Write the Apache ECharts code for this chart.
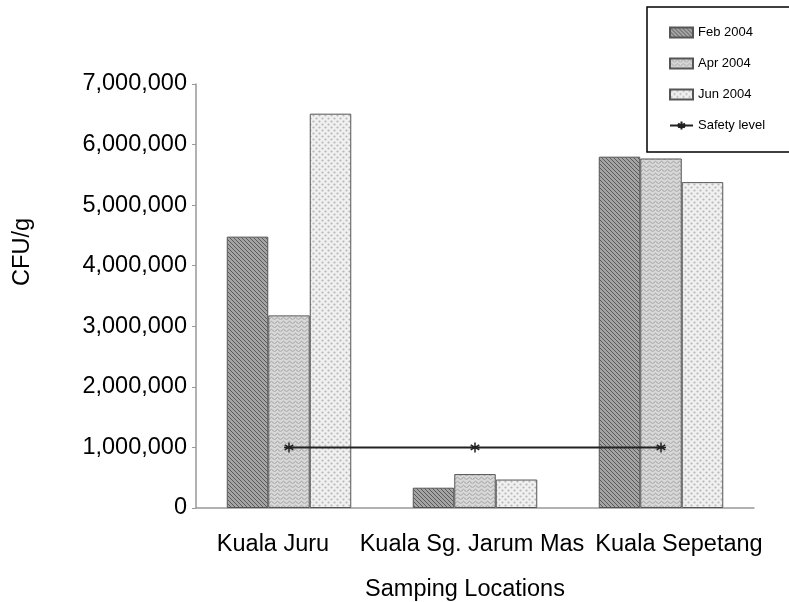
<!DOCTYPE html>
<html>
<head>
<meta charset="utf-8">
<script src="https://cdn.jsdelivr.net/npm/echarts@6/dist/echarts.min.js"></script>
<style>
  html, body { margin: 0; padding: 0; background: #fff; }
  #chart { width: 789px; height: 602px; }
</style>
</head>
<body>
<div id="chart"></div>
<script>
// Sampling sites and monthly counts (CFU/g)
const locations = ['Kuala Juru', 'Kuala Sg. Jarum Mas', 'Kuala Sepetang'];
const feb2004 = [4480000, 335000, 5800000];
const apr2004 = [3180000, 560000, 5770000];
const jun2004 = [6510000, 470000, 5380000];
const safetyLevel = [1000000, 1000000, 1000000];
const yTicks = { min: 0, max: 7000000, step: 1000000 };

// Fill textures for the bars
function hatchPattern() {
  const c = document.createElement('canvas');
  c.width = 4; c.height = 4;
  const g = c.getContext('2d');
  g.fillStyle = '#a4a4a4'; g.fillRect(0, 0, 4, 4);
  g.strokeStyle = '#5a5a5a'; g.lineWidth = 1;
  g.beginPath();
  g.moveTo(0, 0); g.lineTo(4, 4);
  g.moveTo(-2, 2); g.lineTo(2, 6);
  g.moveTo(2, -2); g.lineTo(6, 2);
  g.stroke();
  return c;
}
function wavePattern() {
  const c = document.createElement('canvas');
  c.width = 6; c.height = 4;
  const g = c.getContext('2d');
  g.fillStyle = '#d8d8d8'; g.fillRect(0, 0, 6, 4);
  g.strokeStyle = '#a0a0a0'; g.lineWidth = 1;
  g.beginPath();
  g.moveTo(0, 2.5); g.quadraticCurveTo(1.5, 0, 3, 2.5); g.quadraticCurveTo(4.5, 5, 6, 2.5);
  g.stroke();
  return c;
}
function dotPattern() {
  const c = document.createElement('canvas');
  c.width = 6; c.height = 6;
  const g = c.getContext('2d');
  g.fillStyle = '#f0f0f0'; g.fillRect(0, 0, 6, 6);
  g.fillStyle = '#b8b8b8';
  g.beginPath(); g.arc(1.5, 1.5, 1.1, 0, Math.PI * 2); g.fill();
  g.beginPath(); g.arc(4.5, 4.5, 1.1, 0, Math.PI * 2); g.fill();
  return c;
}

const font = '"Liberation Sans", Arial, sans-serif';
const fs = 23.5;
const chart = echarts.init(document.getElementById('chart'), null, { renderer: 'canvas' });

const barBorder = { borderColor: '#555', borderWidth: 1 };
const asterisk = 'path://M0,-5L0,5M-4.3,-2.5L4.3,2.5M-4.3,2.5L4.3,-2.5M-5,0L5,0';

// per-category label nudges (left/right padding around centred text)
const labelPad = [[0, 32, 0, 0], [0, 6, 0, 0], [0, 0, 0, 36]];
const labelRich = {};
labelPad.forEach((p, i) => {
  labelRich['l' + i] = { fontSize: fs, color: '#000', fontFamily: font, padding: p };
});

chart.setOption({
  animation: false,
  backgroundColor: '#fff',
  textStyle: { fontFamily: font },
  grid: {
    left: 196, right: 35, top: 84, bottom: 94,
    containLabel: false, outerBoundsMode: 'none'
  },
  legend: {
    orient: 'vertical',
    left: 647, top: 7,
    padding: [19, 26, 20, 22],
    borderColor: '#000', borderWidth: 1.5,
    itemWidth: 23, itemHeight: 10, itemGap: 18,
    textStyle: { fontSize: 13, color: '#000', fontFamily: font },
    data: [
      { name: 'Feb 2004', icon: 'rect' },
      { name: 'Apr 2004', icon: 'rect' },
      { name: 'Jun 2004', icon: 'rect' },
      { name: 'Safety level' }
    ]
  },
  graphic: [{
    type: 'text',
    left: 11, top: 218,
    rotation: Math.PI / 2,
    style: { text: 'CFU/g', font: fs + 'px ' + font, fill: '#000' }
  }],
  xAxis: {
    type: 'category',
    data: locations,
    name: 'Samping Locations',
    nameLocation: 'middle',
    nameGap: 70,
    nameTextStyle: { fontSize: fs, color: '#000', padding: [0, 20, 0, 0] },
    axisLine: { lineStyle: { color: '#999', width: 1.5 } },
    axisTick: { length: 4, lineStyle: { color: '#999' } },
    axisLabel: {
      interval: 0, margin: 25,
      formatter: (v, i) => '{l' + i + '|' + v + '}',
      rich: labelRich
    }
  },
  yAxis: {
    type: 'value',
    min: yTicks.min, max: yTicks.max, interval: yTicks.step,
    splitLine: { show: false },
    axisLine: { show: true, lineStyle: { color: '#999', width: 1.5 } },
    axisTick: { show: true, length: 4, lineStyle: { color: '#999' } },
    axisLabel: {
      fontSize: fs, color: '#000', margin: 9,
      formatter: v => v.toLocaleString('en-US')
    }
  },
  series: [
    {
      name: 'Feb 2004', type: 'bar', data: feb2004,
      barWidth: 41.5, barGap: '0%',
      itemStyle: Object.assign({ color: { image: hatchPattern(), repeat: 'repeat' } }, barBorder)
    },
    {
      name: 'Apr 2004', type: 'bar', data: apr2004,
      barWidth: 41.5, barGap: '0%',
      itemStyle: Object.assign({ color: { image: wavePattern(), repeat: 'repeat' } }, barBorder)
    },
    {
      name: 'Jun 2004', type: 'bar', data: jun2004,
      barWidth: 41.5, barGap: '0%',
      itemStyle: Object.assign({ color: { image: dotPattern(), repeat: 'repeat' } }, barBorder)
    },
    {
      name: 'Safety level', type: 'line', data: safetyLevel,
      symbol: asterisk, symbolSize: 10,
      lineStyle: { color: '#222', width: 2 },
      itemStyle: { color: '#222', borderColor: '#222', borderWidth: 1.5 },
      z: 5
    }
  ]
});
</script>
</body>
</html>
